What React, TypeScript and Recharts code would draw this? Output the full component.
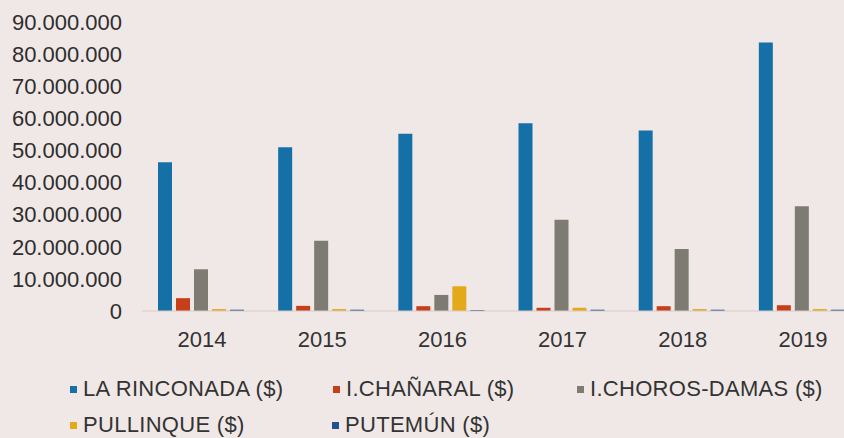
import { BarChart, Bar, XAxis, YAxis } from 'recharts'

const years = ['2014', '2015', '2016', '2017', '2018', '2019']

const laRinconada = [46300000, 51000000, 55200000, 58500000, 56200000, 83600000]
const chanaral = [4000000, 1600000, 1500000, 1000000, 1500000, 1800000]
const chorosDamas = [13000000, 21900000, 5000000, 28400000, 19300000, 32600000]
const pullinque = [600000, 600000, 7700000, 1000000, 600000, 600000]
const putemun = [400000, 400000, 300000, 400000, 400000, 400000]

const yTicks = [0, 10000000, 20000000, 30000000, 40000000, 50000000, 60000000, 70000000, 80000000, 90000000]

const SERIES = [
  { key: 'rinconada', name: 'LA RINCONADA ($)', color: '#1470a6' },
  { key: 'chanaral', name: 'I.CHAÑARAL ($)', color: '#c63f19' },
  { key: 'choros', name: 'I.CHOROS-DAMAS ($)', color: '#7e7b73' },
  { key: 'pullinque', name: 'PULLINQUE ($)', color: '#e4a91a' },
  { key: 'putemun', name: 'PUTEMÚN ($)', color: '#23508f' },
]

const data = years.map((year, i) => ({
  year,
  rinconada: laRinconada[i],
  chanaral: chanaral[i],
  choros: chorosDamas[i],
  pullinque: pullinque[i],
  putemun: putemun[i],
}))

const FONT = '"Liberation Sans", Arial, sans-serif'

const fmt = (v: number) => String(v).replace(/\B(?=(\d{3})+(?!\d))/g, '.')

// legend spots
const legendPos = [
  { left: 70, top: 389 },
  { left: 333, top: 389 },
  { left: 577, top: 389 },
  { left: 70, top: 425 },
  { left: 332, top: 425 },
]

export default function App() {
  return (
    <div
      style={{
        position: 'fixed',
        left: 0,
        top: 0,
        width: 844,
        height: 438,
        overflow: 'hidden',
        background: '#f0e8e6',
        fontFamily: FONT,
      }}
    >
      <BarChart
        width={880}
        height={370}
        data={data}
        margin={{ top: 22, right: 17, bottom: 29, left: 0 }}
        barCategoryGap={16}
        barGap={4}
      >
        <XAxis
          dataKey="year"
          axisLine={{ stroke: '#d6ccc9' }}
          tickLine={false}
          tickMargin={14}
          height={30}
          tick={{ fill: '#333', fontSize: 22, fontFamily: FONT }}
        />
        <YAxis
          width={142}
          domain={[0, 90000000]}
          ticks={yTicks}
          axisLine={false}
          tickLine={false}
          tickMargin={14}
          tickFormatter={fmt}
          tick={{ fill: '#2e2e2e', fontSize: 22, fontFamily: FONT }}
        />
        {SERIES.map((s) => (
          <Bar key={s.key} dataKey={s.key} name={s.name} fill={s.color} isAnimationActive={false} />
        ))}
      </BarChart>

      {/* Legend */}
      {SERIES.map((s, i) => (
        <div
          key={s.key}
          style={{
            position: 'absolute',
            left: legendPos[i].left,
            top: legendPos[i].top - 13,
            height: 26,
            display: 'flex',
            alignItems: 'center',
            gap: 6,
            fontSize: 22,
            letterSpacing: 0.3,
            color: '#333',
            whiteSpace: 'nowrap',
          }}
        >
          <span style={{ width: 7, height: 7, background: s.color, display: 'inline-block' }} />
          <span>{s.name}</span>
        </div>
      ))}
    </div>
  )
}
